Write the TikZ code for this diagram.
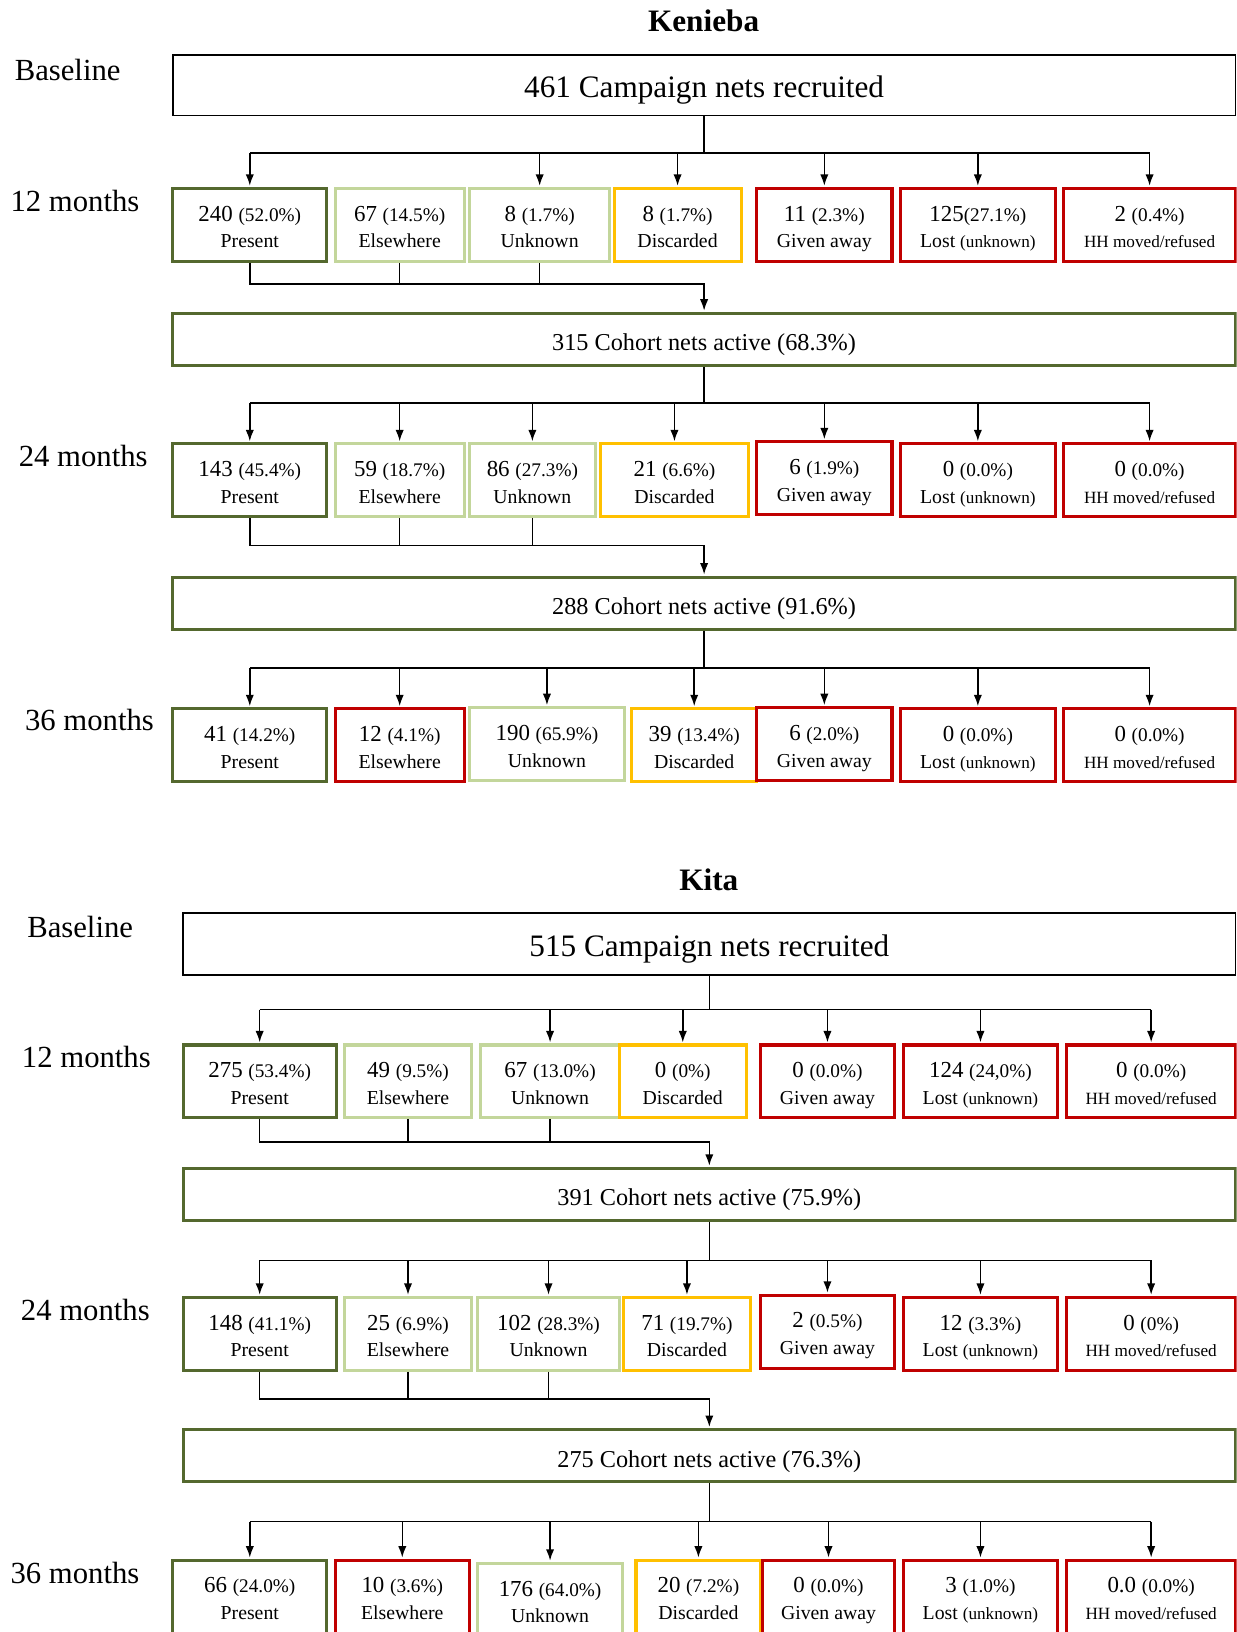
\documentclass[tikz,border=0pt]{standalone}
\usepackage{fontspec}
\setmainfont{Liberation Serif}
\usetikzlibrary{arrows.meta}

\definecolor{darkgreen}{RGB}{84,104,46}
\definecolor{lightgreen}{RGB}{195,214,155}
\definecolor{gold}{RGB}{255,192,0}
\definecolor{darkred}{RGB}{192,0,0}

\newcommand{\perc}[1]{{\fontsize{18.5}{20}\selectfont(#1)}}
\newcommand{\stat}[1]{{\fontsize{19}{20}\selectfont #1}}
\newcommand{\unk}{{\fontsize{16.5}{18}\selectfont(unknown)}}
\newcommand{\hhm}{{\fontsize{16.5}{18}\selectfont HH moved/refused}}

\tikzset{
	recbox/.style={draw=black, line width=1.6pt, minimum height=58pt, inner sep=0pt, text height=24pt, text depth=0pt, font=\fontsize{30}{34}\selectfont},
	activebox/.style={draw=darkgreen, line width=3pt, minimum height=50pt, inner sep=0pt, text height=22pt, text depth=0pt, font=\fontsize{23.3}{27}\selectfont},
	netbox/.style={line width=3pt, minimum height=70pt, inner sep=0pt, align=center, text height=44pt, text depth=0pt, font=\fontsize{22}{25.6}\selectfont},
	present/.style={netbox, draw=darkgreen},
	away/.style={netbox, draw=lightgreen},
	discard/.style={netbox, draw=gold},
	lost/.style={netbox, draw=darkred},
	conn/.style={line width=1.5pt},
	arr/.style={conn, -{Latex[length=11pt,width=8pt]}, shorten >=1pt},
	period/.style={font=\fontsize{29.5}{33}\selectfont},
	site/.style={font=\bfseries\fontsize{30}{34}\selectfont}
}

\begin{document}
\begin{tikzpicture}[x=1pt, y=-1pt]
				\useasboundingbox (0,0) rectangle (1188,1568);
				\clip (0,0) rectangle (1188,1568);
				
				\node[site] (ktitle) at (676,20) {Kenieba};
				\node[period] (kbase) at (65,67) {Baseline};
				\node[period] (k12) at (72,193) {12 months};
				\node[period] (k24) at (80,438) {24 months};
				\node[period] (k36) at (86,692) {36 months};
				
				\node[recbox, minimum width=1021pt] (krec) at (676.5,82) {461 Campaign nets recruited};
				
				\node[present, minimum width=148pt] (kp1) at (240,216) {240 \perc{52.0\%}\\\stat{Present}};
				\node[away, minimum width=124pt] (ke1) at (384,216) {67 \perc{14.5\%}\\\stat{Elsewhere}};
				\node[away, minimum width=135pt] (ku1) at (518.5,216) {8 \perc{1.7\%}\\\stat{Unknown}};
				\node[discard, minimum width=122pt] (kd1) at (651,216) {8 \perc{1.7\%}\\\stat{Discarded}};
				\node[lost, minimum width=130pt] (kg1) at (792,216) {11 \perc{2.3\%}\\\stat{Given away}};
				\node[lost, minimum width=149pt] (kl1) at (939.5,216) {125\perc{27.1\%}\\\stat{Lost \unk}};
				\node[lost, minimum width=165pt] (kh1) at (1104.5,216) {2 \perc{0.4\%}\\\hhm};
				
				\node[activebox, minimum width=1021pt] (ka1) at (676.5,326) {315 Cohort nets active (68.3\%)};
				
				\node[present, minimum width=148pt] (kp2) at (240,461.5) {143 \perc{45.4\%}\\\stat{Present}};
				\node[away, minimum width=124pt] (ke2) at (384,461.5) {59 \perc{18.7\%}\\\stat{Elsewhere}};
				\node[away, minimum width=121pt] (ku2) at (511.5,461.5) {86 \perc{27.3\%}\\\stat{Unknown}};
				\node[discard, minimum width=142pt] (kd2) at (648,461.5) {21 \perc{6.6\%}\\\stat{Discarded}};
				\node[lost, minimum width=130pt] (kg2) at (792,459.5) {6 \perc{1.9\%}\\\stat{Given away}};
				\node[lost, minimum width=149pt] (kl2) at (939.5,461.5) {0 \perc{0.0\%}\\\stat{Lost \unk}};
				\node[lost, minimum width=165pt] (kh2) at (1104.5,461.5) {0 \perc{0.0\%}\\\hhm};
				
				\node[activebox, minimum width=1021pt] (ka2) at (676.5,579.5) {288 Cohort nets active (91.6\%)};
				
				\node[present, minimum width=148pt] (kp3) at (240,716) {41 \perc{14.2\%}\\\stat{Present}};
				\node[lost, minimum width=124pt] (ke3) at (384,716) {12 \perc{4.1\%}\\\stat{Elsewhere}};
				\node[away, minimum width=149pt] (ku3) at (525.5,715) {190 \perc{65.9\%}\\\stat{Unknown}};
				\node[discard, minimum width=120pt] (kd3) at (667,716) {39 \perc{13.4\%}\\\stat{Discarded}};
				\node[lost, minimum width=130pt] (kg3) at (792,715) {6 \perc{2.0\%}\\\stat{Given away}};
				\node[lost, minimum width=149pt] (kl3) at (939.5,716) {0 \perc{0.0\%}\\\stat{Lost \unk}};
				\node[lost, minimum width=165pt] (kh3) at (1104.5,716) {0 \perc{0.0\%}\\\hhm};
				
				\coordinate (kb1) at (676.5,147);
				\coordinate (kc1) at (676.5,273);
				\coordinate (kb2) at (676.5,387);
				\coordinate (kc2) at (676.5,524);
				\coordinate (kb3) at (676.5,642);
				
				\draw[conn] (krec) -- (kb1);
				\draw[conn] (kp1 |- kb1) -- (kh1 |- kb1);
				\draw[arr] (kp1 |- kb1) -- (kp1);
				\draw[arr] (ku1 |- kb1) -- (ku1);
				\draw[arr] (kd1 |- kb1) -- (kd1);
				\draw[arr] (kg1 |- kb1) -- (kg1);
				\draw[arr] (kl1 |- kb1) -- (kl1);
				\draw[arr] (kh1 |- kb1) -- (kh1);
				\draw[arr] (kp1.south) |- (kc1) -- (ka1);
				\draw[conn] (ke1.south) -- (ke1 |- kc1);
				\draw[conn] (ku1.south) -- (ku1 |- kc1);
				
				\draw[conn] (ka1) -- (kb2);
				\draw[conn] (kp2 |- kb2) -- (kh2 |- kb2);
				\draw[arr] (kp2 |- kb2) -- (kp2);
				\draw[arr] (ke2 |- kb2) -- (ke2);
				\draw[arr] (ku2 |- kb2) -- (ku2);
				\draw[arr] (kd2 |- kb2) -- (kd2);
				\draw[arr] (kg2 |- kb2) -- (kg2);
				\draw[arr] (kl2 |- kb2) -- (kl2);
				\draw[arr] (kh2 |- kb2) -- (kh2);
				\draw[arr] (kp2.south) |- (kc2) -- (ka2);
				\draw[conn] (ke2.south) -- (ke2 |- kc2);
				\draw[conn] (ku2.south) -- (ku2 |- kc2);
				
				\draw[conn] (ka2) -- (kb3);
				\draw[conn] (kp3 |- kb3) -- (kh3 |- kb3);
				\draw[arr] (kp3 |- kb3) -- (kp3);
				\draw[arr] (ke3 |- kb3) -- (ke3);
				\draw[arr] (ku3 |- kb3) -- (ku3);
				\draw[arr] (kd3 |- kb3) -- (kd3);
				\draw[arr] (kg3 |- kb3) -- (kg3);
				\draw[arr] (kl3 |- kb3) -- (kl3);
				\draw[arr] (kh3 |- kb3) -- (kh3);
				
				\node[site] (ttitle) at (681,845) {Kita};
				\node[period] (tbase) at (77,891) {Baseline};
				\node[period] (t12) at (83,1016) {12 months};
				\node[period] (t24) at (82,1259) {24 months};
				\node[period] (t36) at (72,1511) {36 months};
				
				\node[recbox, minimum width=1011pt, minimum height=60pt] (trec) at (681.5,907) {515 Campaign nets recruited};
				
				\node[present, minimum width=147pt] (tp1) at (249.5,1039) {275 \perc{53.4\%}\\\stat{Present}};
				\node[away, minimum width=122pt] (te1) at (392,1039) {49 \perc{9.5\%}\\\stat{Elsewhere}};
				\node[away, minimum width=133pt] (tu1) at (528.5,1039) {67 \perc{13.0\%}\\\stat{Unknown}};
				\node[discard, minimum width=122pt] (td1) at (656,1039) {0 \perc{0\%}\\\stat{Discarded}};
				\node[lost, minimum width=128pt] (tg1) at (795,1039) {0 \perc{0.0\%}\\\stat{Given away}};
				\node[lost, minimum width=148pt] (tl1) at (942,1039) {124 \perc{24,0\%}\\\stat{Lost \unk}};
				\node[lost, minimum width=162pt] (th1) at (1106,1039) {0 \perc{0.0\%}\\\hhm};
				
				\node[activebox, minimum width=1011pt] (ta1) at (681.5,1147.5) {391 Cohort nets active (75.9\%)};
				
				\node[present, minimum width=147pt] (tp2) at (249.5,1281.5) {148 \perc{41.1\%}\\\stat{Present}};
				\node[away, minimum width=122pt] (te2) at (392,1281.5) {25 \perc{6.9\%}\\\stat{Elsewhere}};
				\node[away, minimum width=136pt] (tu2) at (527,1281.5) {102 \perc{28.3\%}\\\stat{Unknown}};
				\node[discard, minimum width=122pt] (td2) at (660,1281.5) {71 \perc{19.7\%}\\\stat{Discarded}};
				\node[lost, minimum width=128pt] (tg2) at (795,1279.5) {2 \perc{0.5\%}\\\stat{Given away}};
				\node[lost, minimum width=148pt] (tl2) at (942,1281.5) {12 \perc{3.3\%}\\\stat{Lost \unk}};
				\node[lost, minimum width=162pt] (th2) at (1106,1281.5) {0 \perc{0\%}\\\hhm};
				
				\node[activebox, minimum width=1011pt] (ta2) at (681.5,1398.5) {275 Cohort nets active (76.3\%)};
				
				\node[present, minimum width=148pt] (tp3) at (240,1534) {66 \perc{24.0\%}\\\stat{Present}};
				\node[lost, minimum width=129pt] (te3) at (386.5,1534) {10 \perc{3.6\%}\\\stat{Elsewhere}};
				\node[away, minimum width=139pt] (tu3) at (528.5,1537) {176 \perc{64.0\%}\\\stat{Unknown}};
				\node[discard, minimum width=120pt] (td3) at (671,1534) {20 \perc{7.2\%}\\\stat{Discarded}};
				\node[lost, minimum width=126pt] (tg3) at (796,1534) {0 \perc{0.0\%}\\\stat{Given away}};
				\node[lost, minimum width=148pt] (tl3) at (942,1534) {3 \perc{1.0\%}\\\stat{Lost \unk}};
				\node[lost, minimum width=162pt] (th3) at (1106,1534) {0.0 \perc{0.0\%}\\\hhm};
				
				\coordinate (tb1) at (681.5,970);
				\coordinate (tc1) at (681.5,1097);
				\coordinate (tb2) at (681.5,1211);
				\coordinate (tc2) at (681.5,1344);
				\coordinate (tb3) at (681.5,1462);
				
				\draw[conn] (trec) -- (tb1);
				\draw[conn] (tp1 |- tb1) -- (th1 |- tb1);
				\draw[arr] (tp1 |- tb1) -- (tp1);
				\draw[arr] (tu1 |- tb1) -- (tu1);
				\draw[arr] (td1 |- tb1) -- (td1);
				\draw[arr] (tg1 |- tb1) -- (tg1);
				\draw[arr] (tl1 |- tb1) -- (tl1);
				\draw[arr] (th1 |- tb1) -- (th1);
				\draw[arr] (tp1.south) |- (tc1) -- (ta1);
				\draw[conn] (te1.south) -- (te1 |- tc1);
				\draw[conn] (tu1.south) -- (tu1 |- tc1);
				
				\draw[conn] (ta1) -- (tb2);
				\draw[conn] (tp2 |- tb2) -- (th2 |- tb2);
				\draw[arr] (tp2 |- tb2) -- (tp2);
				\draw[arr] (te2 |- tb2) -- (te2);
				\draw[arr] (tu2 |- tb2) -- (tu2);
				\draw[arr] (td2 |- tb2) -- (td2);
				\draw[arr] (tg2 |- tb2) -- (tg2);
				\draw[arr] (tl2 |- tb2) -- (tl2);
				\draw[arr] (th2 |- tb2) -- (th2);
				\draw[arr] (tp2.south) |- (tc2) -- (ta2);
				\draw[conn] (te2.south) -- (te2 |- tc2);
				\draw[conn] (tu2.south) -- (tu2 |- tc2);
				
				\draw[conn] (ta2) -- (tb3);
				\draw[conn] (tp3 |- tb3) -- (th3 |- tb3);
				\draw[arr] (tp3 |- tb3) -- (tp3);
				\draw[arr] (te3 |- tb3) -- (te3);
				\draw[arr] (tu3 |- tb3) -- (tu3);
				\draw[arr] (td3 |- tb3) -- (td3);
				\draw[arr] (tg3 |- tb3) -- (tg3);
				\draw[arr] (tl3 |- tb3) -- (tl3);
				\draw[arr] (th3 |- tb3) -- (th3);
			\end{tikzpicture}
\end{document}
